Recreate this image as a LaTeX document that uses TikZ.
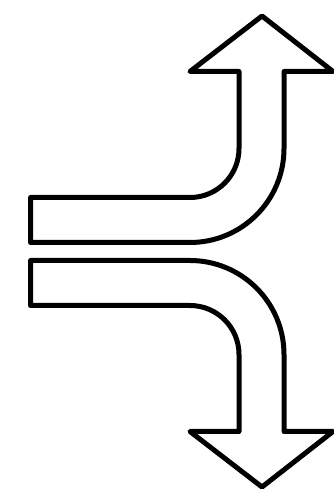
\documentclass[tikz,border=0pt]{standalone}
\begin{document}
\begin{tikzpicture}[x=1pt,y=1pt,
  arrowshape/.style={draw=black,fill=white,line width=5pt,line join=round}]
\useasboundingbox (0,0) rectangle (334,495);
% upper arrow
\draw[arrowshape] (30.5,297.5) -- (190,297.5) arc[start angle=-90,end angle=0,radius=49]
  -- (239,423.5) -- (190,423.5) -- (262,479) -- (333,423.5) -- (284,423.5)
  -- (284,346.5) arc[start angle=0,end angle=-90,radius=94] -- (30.5,252.5) -- cycle;
% lower arrow
\draw[arrowshape] (30.5,189.5) -- (190,189.5) arc[start angle=90,end angle=0,radius=49]
  -- (239,63.5) -- (190,63.5) -- (262,8) -- (333,63.5) -- (284,63.5)
  -- (284,140.5) arc[start angle=0,end angle=90,radius=94] -- (30.5,234.5) -- cycle;
\end{tikzpicture}
\end{document}
